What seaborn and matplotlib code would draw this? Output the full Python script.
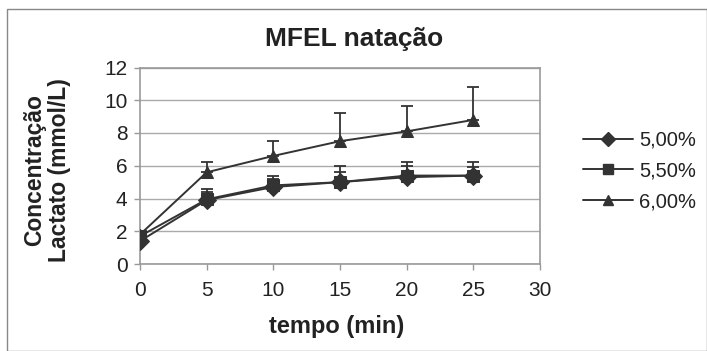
import matplotlib
matplotlib.use("Agg")
import matplotlib.pyplot as plt
import seaborn as sns
import pandas as pd
import numpy as np
from matplotlib.lines import Line2D

tempo = [0, 5, 10, 15, 20, 25]
series_names = ["5,00%", "5,50%", "6,00%"]
lact_500 = [1.4, 3.9, 4.7, 5.0, 5.3, 5.4]
lact_550 = [1.7, 3.95, 4.8, 5.0, 5.4, 5.4]
lact_600 = [1.8, 5.6, 6.6, 7.5, 8.1, 8.8]
err_500 = [0.0, 0.5, 0.5, 0.6, 0.7, 0.5]
err_550 = [0.0, 0.65, 0.6, 1.0, 0.8, 0.8]
err_600 = [0.0, 0.6, 0.9, 1.7, 1.55, 2.0]
x_ticks = [0, 5, 10, 15, 20, 25, 30]
y_ticks = [0, 2, 4, 6, 8, 10, 12]

sns.set_theme(style="white")
plt.rcParams['font.family'] = ['Liberation Sans', 'DejaVu Sans']

df = pd.DataFrame({
    "tempo": tempo * 3,
    "lact": lact_500 + lact_550 + lact_600,
    "err": err_500 + err_550 + err_600,
    "serie": [s for s in series_names for _ in tempo],
})

dark = "#333333"
txt = "#222222"
fig = plt.figure(figsize=(7.07, 3.51), dpi=100)
ax = fig.add_axes([140/707, 1-264/351, 400/707, 196.5/351])

markers = {"5,00%": "D", "5,50%": "s", "6,00%": "^"}

for s in series_names:
    d = df[df.serie == s]
    ax.errorbar(d.tempo, d.lact, yerr=[np.zeros(len(d)), d.err.values],
                fmt="none", ecolor=dark, elinewidth=1.3, capsize=4.5, capthick=1.3, zorder=2)

sns.lineplot(data=df, x="tempo", y="lact", hue="serie", style="serie",
             markers=markers, dashes=False, palette=[dark]*3, linewidth=1.4,
             markersize=9, markeredgecolor=dark, legend=False, ax=ax, zorder=3)

ax.set_xlim(0, 30)
ax.set_ylim(0, 12)
ax.set_xticks(x_ticks)
ax.set_yticks(y_ticks)
ax.tick_params(axis="both", labelsize=15, labelcolor=txt, length=4, width=1, direction="out", pad=5)
ax.tick_params(axis="x", color="#999999", bottom=True, pad=8)
ax.tick_params(axis="y", color="#999999", left=True)
ax.grid(axis="y", color="#aaaaaa", linewidth=1)
ax.grid(axis="x", visible=False)
for sp in ax.spines.values():
    sp.set_color("#999999")
    sp.set_linewidth(1.2)

ax.set_xlabel("tempo (min)", fontsize=17, fontweight="bold", color=txt, va="center")
ax.xaxis.set_label_coords((337-140)/400, (264-327)/196.5)
ax.set_ylabel("Concentração\nLactato (mmol/L)", fontsize=16.5, fontweight="bold", color=txt,
              va="center", linespacing=1.15)
ax.yaxis.set_label_coords((47-140)/400, 0.48)
fig.text(354/707, 1-39/351, "MFEL natação", fontsize=19, fontweight="bold", color=txt,
         ha="center", va="center")

handles = [Line2D([0], [0], color=dark, lw=1.4, marker=markers[s], markersize=7.5) for s in series_names]
fig.legend(handles, series_names, loc="center left", bbox_to_anchor=(583/707, 1-171/351),
           frameon=False, fontsize=14.5, handlelength=2.5, handletextpad=0.3, labelspacing=0.58,
           borderaxespad=0, borderpad=0, labelcolor=txt)

border = plt.Rectangle((7/707, 0), 1 - 7/707, 1 - 9/351, transform=fig.transFigure,
                       fill=False, edgecolor="#888888", linewidth=1)
fig.patches.append(border)

fig.savefig("out.png", dpi=100)
